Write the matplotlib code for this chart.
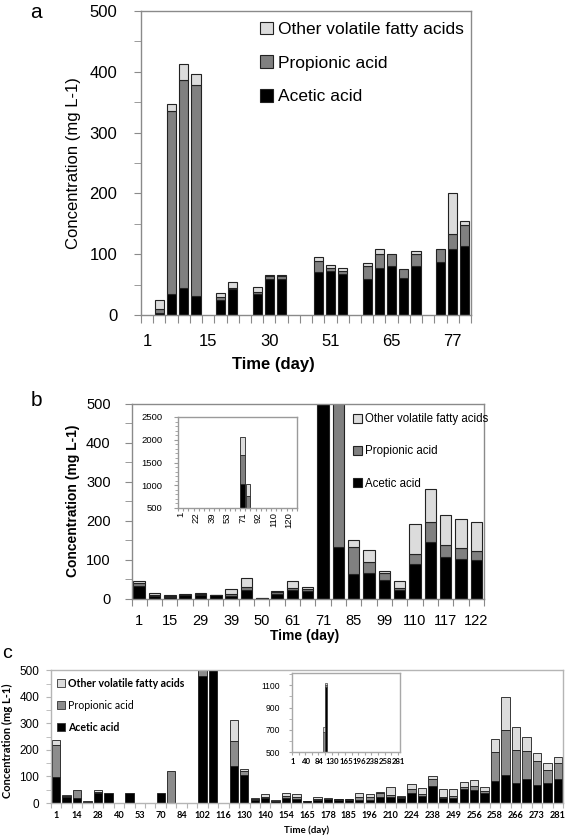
import matplotlib
matplotlib.use("Agg")
import matplotlib.pyplot as plt
import numpy as np
from matplotlib.patches import Patch

plt.rcParams['font.family'] = ['Liberation Sans', 'DejaVu Sans']

# ---------------- data ----------------
# Panel a (27 sampling slots, labels every 5th slot)
a_tick_labels = ["1", "15", "30", "51", "65", "77"]
a_acetic = [0, 3, 34, 45, 31, 0, 25, 43, 0, 34, 60, 60, 0, 0, 71, 73, 68, 0, 59, 77, 80, 61, 80, 0, 87, 108, 113]
a_propionic = [0, 7, 301, 341, 348, 0, 5, 2, 0, 4, 4, 4, 0, 0, 17, 4, 5, 0, 21, 24, 21, 15, 20, 0, 21, 26, 35]
a_other = [0, 15, 12, 27, 17, 0, 7, 9, 0, 8, 2, 2, 0, 0, 7, 5, 5, 0, 5, 7, 0, 0, 6, 0, 0, 66, 7]

# Panel b (23 sampling days)
b_days = [1, 8, 15, 22, 29, 34, 39, 43, 50, 53, 61, 64, 71, 78, 85, 92, 99, 106, 110, 113, 117, 120, 122]
b_acetic = [31, 6, 5, 8, 9, 8, 7, 21, 1, 12, 21, 18, 1018, 133, 62, 66, 48, 21, 88, 144, 107, 101, 98]
b_propionic = [8, 2, 2, 2, 3, 1, 4, 9, 0, 4, 6, 6, 645, 624, 69, 27, 17, 5, 27, 52, 29, 28, 25]
b_other = [6, 7, 1, 1, 2, 1, 14, 22, 1, 3, 17, 6, 392, 272, 19, 31, 5, 18, 77, 85, 79, 74, 72]

# Panel c (49 sampling slots, labels every 2nd slot)
c_tick_labels = ["1", "14", "28", "40", "53", "70", "84", "102", "116", "130", "140", "154", "165",
                 "178", "185", "196", "210", "224", "238", "249", "256", "258", "266", "273", "281"]
c_acetic = [98, 23, 20, 2, 36, 36, 0, 36, 0, 0, 36, 0, 0, 0, 480, 1080, 0, 140, 105, 12, 20, 7, 18, 14, 7,
            10, 14, 12, 11, 13, 13, 24, 23, 20, 39, 26, 64, 18, 20, 54, 49, 39, 84, 104, 77, 89, 67, 75, 89]
c_propionic = [120, 2, 30, 6, 5, 0, 0, 0, 0, 0, 0, 120, 0, 0, 200, 20, 0, 95, 15, 3, 3, 2, 8, 8, 1,
               6, 2, 2, 3, 10, 10, 15, 8, 3, 13, 7, 28, 3, 6, 8, 15, 6, 109, 170, 121, 106, 91, 48, 61]
c_other = [18, 4, 0, 0, 8, 0, 0, 0, 0, 0, 0, 0, 0, 0, 45, 18, 0, 78, 8, 3, 12, 3, 10, 11, 1,
           5, 3, 2, 2, 15, 12, 4, 29, 3, 21, 24, 11, 32, 27, 17, 21, 17, 47, 127, 87, 54, 29, 27, 23]

series_names = ["Other volatile fatty acids", "Propionic acid", "Acetic acid"]

# ---------------- helpers ----------------
W, H = 566, 836
fig = plt.figure(figsize=(W / 100, H / 100), dpi=100)


def rect(x0, y0, x1, y1):
    return [x0 / W, 1 - y1 / H, (x1 - x0) / W, (y1 - y0) / H]


def stacked(ax, ac, pr, ot, width, colors, ec='black', lw=0.7):
    ac = np.asarray(ac, float)
    pr = np.asarray(pr, float)
    ot = np.asarray(ot, float)
    x = np.arange(len(ac))
    bottoms = [np.zeros_like(ac), ac, ac + pr]
    for vals, bot, col in zip([ac, pr, ot], bottoms, colors):
        m = vals > 0
        ax.bar(x[m], vals[m], width, bottom=bot[m], color=col, edgecolor=ec, linewidth=lw, zorder=2)


def cat_axis(ax, n, every, labels, fs, weight='normal', family=None, rotation=0, tick_len=5, pad=4, tick_step=1):
    ax.set_xlim(-0.5, n - 0.5)
    ax.set_xticks(np.arange(-0.5, n, tick_step))
    ax.set_xticklabels([])
    ax.set_xticks(np.arange(0, n, every), labels, minor=True)
    ax.tick_params(axis='x', which='major', length=tick_len, direction='out')
    ax.tick_params(axis='x', which='minor', length=0, pad=pad, labelsize=fs, labelrotation=rotation)
    for t in ax.get_xticklabels(minor=True):
        t.set_fontweight(weight)
        if family:
            t.set_fontfamily(family)


def style_spines(ax, color, lw=1.0):
    for s in ax.spines.values():
        s.set_color(color)
        s.set_linewidth(lw)
    ax.tick_params(which='both', color=color, direction='out')


C_AC, C_PR, C_OT = '#000000', '#808080', '#dcdcdc'
SPINE = '#8a8a8a'

# ---------------- panel a ----------------
axa = fig.add_axes(rect(141, 11, 471, 315))
stacked(axa, a_acetic, a_propionic, a_other, 0.75, [C_AC, C_PR, C_OT], ec='#222222', lw=0.8)
style_spines(axa, SPINE)
axa.set_ylim(0, 500)
axa.set_yticks(np.arange(0, 501, 100))
axa.set_yticks(np.arange(50, 500, 100), minor=True)
axa.tick_params(axis='y', which='both', length=5, labelsize=12, pad=12)
cat_axis(axa, len(a_acetic), 5, a_tick_labels, 12, tick_len=6, pad=14)
axa.set_ylabel("Concentration (mg L-1)", fontsize=12)
axa.yaxis.set_label_coords(-0.182, 0.5)
axa.set_xlabel("Time (day)", fontsize=12, fontweight='bold')
axa.xaxis.set_label_coords(0.40, -0.138)
hands = [Patch(facecolor=c, edgecolor='#222222', linewidth=0.8, label=l)
         for c, l in zip([C_OT, C_PR, C_AC], series_names)]
axa.legend(handles=hands, loc='upper left', bbox_to_anchor=(0.36, 0.965), frameon=False, fontsize=12.5,
           handlelength=0.75, handleheight=0.75, handletextpad=0.3, labelspacing=1.05,
           borderpad=0, borderaxespad=0)
fig.text(36 / W, 1 - 12 / H, "a", fontsize=15, ha='center', va='center')

# ---------------- panel b ----------------
axb = fig.add_axes(rect(131.5, 403.5, 484, 598.5))
stacked(axb, b_acetic, b_propionic, b_other, 0.75, [C_AC, C_PR, C_OT], ec='#222222', lw=0.8)
style_spines(axb, SPINE)
axb.set_ylim(0, 500)
axb.set_yticks(np.arange(0, 501, 100))
axb.set_yticks(np.arange(50, 500, 100), minor=True)
axb.tick_params(axis='y', which='both', length=5, labelsize=10.5, pad=10)
cat_axis(axb, len(b_days), 2, [str(d) for d in b_days[::2]], 10.5, tick_len=5, pad=11)
axb.set_ylabel("Concentration (mg L-1)", fontsize=10, fontweight='bold')
axb.yaxis.set_label_coords(-0.146, 0.5)
axb.set_xlabel("Time (day)", fontsize=10, fontweight='bold')
axb.xaxis.set_label_coords(0.49, -0.155)
hands = [Patch(facecolor=c, edgecolor='#222222', linewidth=0.8, label=l)
         for c, l in zip([C_OT, C_PR, C_AC], series_names)]
axb.legend(handles=hands, loc='upper left', bbox_to_anchor=(0.628, 0.95), frameon=False, fontsize=8.3,
           handlelength=0.8, handleheight=0.8, handletextpad=0.25, labelspacing=1.75,
           borderpad=0, borderaxespad=0)
fig.text(36 / W, 1 - 400 / H, "b", fontsize=15, ha='center', va='center')

# inset b
axbi = fig.add_axes(rect(178, 417, 297, 508))
stacked(axbi, b_acetic, b_propionic, b_other, 0.9, [C_AC, C_PR, C_OT], ec='#222222', lw=0.6)
style_spines(axbi, '#9a9a9a')
axbi.set_ylim(500, 2500)
axbi.set_yticks(np.arange(500, 2501, 500))
axbi.set_yticks(np.arange(600, 2500, 100), minor=True)
axbi.tick_params(axis='y', which='major', length=3, labelsize=6.8, pad=8)
axbi.tick_params(axis='y', which='minor', length=2)
cat_axis(axbi, len(b_days), 3, [str(d) for d in b_days[::3]], 6.8, rotation=90, tick_len=2.5, pad=3)

# ---------------- panel c ----------------
LATO = ['Lato', 'DejaVu Sans']
C_PR_C = '#8c8c8c'
axc = fig.add_axes(rect(51, 670.3, 563, 803))
stacked(axc, c_acetic, c_propionic, c_other, 0.8, [C_AC, C_PR_C, C_OT], ec='#1a1a1a', lw=0.6)
style_spines(axc, '#b5b5b5')
axc.set_ylim(0, 500)
axc.set_yticks(np.arange(0, 501, 100))
axc.set_yticks(np.arange(50, 500, 100), minor=True)
axc.tick_params(axis='y', which='both', length=3.5, labelsize=8.5, pad=5)
cat_axis(axc, len(c_acetic), 2, c_tick_labels, 6.6, weight='bold', family=LATO, tick_len=3.5, pad=6)
axc.set_ylabel("Concentration (mg L-1)", fontsize=8, fontweight='bold', family=LATO)
axc.yaxis.set_label_coords(-0.075, 0.47)
axc.set_xlabel("Time (day)", fontsize=7, fontweight='bold', family=LATO)
axc.xaxis.set_label_coords(0.5, -0.166)
hands = [Patch(facecolor=c, edgecolor='#333333', linewidth=0.6, label=l)
         for c, l in zip([C_OT, C_PR_C, C_AC], series_names)]
legc = axc.legend(handles=hands, loc='upper left', bbox_to_anchor=(0.012, 0.945), frameon=False,
                  prop={'family': LATO, 'size': 7.6},
                  handlelength=0.75, handleheight=0.75, handletextpad=0.3, labelspacing=1.05,
                  borderpad=0, borderaxespad=0)
for t, w in zip(legc.get_texts(), ['bold', 'normal', 'bold']):
    t.set_fontweight(w)
fig.text(7 / W, 1 - 654 / H, "c", fontsize=14, ha='center', va='center')

# inset c
axci = fig.add_axes(rect(292, 673.3, 400, 752.3))
stacked(axci, c_acetic, c_propionic, c_other, 0.9, [C_AC, C_PR_C, C_OT], ec='#1a1a1a', lw=0.4)
style_spines(axci, '#a8a8a8')
axci.set_ylim(500, 1207)
axci.set_yticks(np.arange(500, 1101, 200))
axci.set_yticks(np.arange(600, 1201, 200), minor=True)
axci.tick_params(axis='y', which='both', length=2.5, labelsize=6.2, pad=6)
cat_axis(axci, len(c_acetic), 6, c_tick_labels[::3], 5.6, weight='bold', family=LATO, tick_len=2, pad=4,
         tick_step=3)

fig.savefig("out.png", dpi=100)
